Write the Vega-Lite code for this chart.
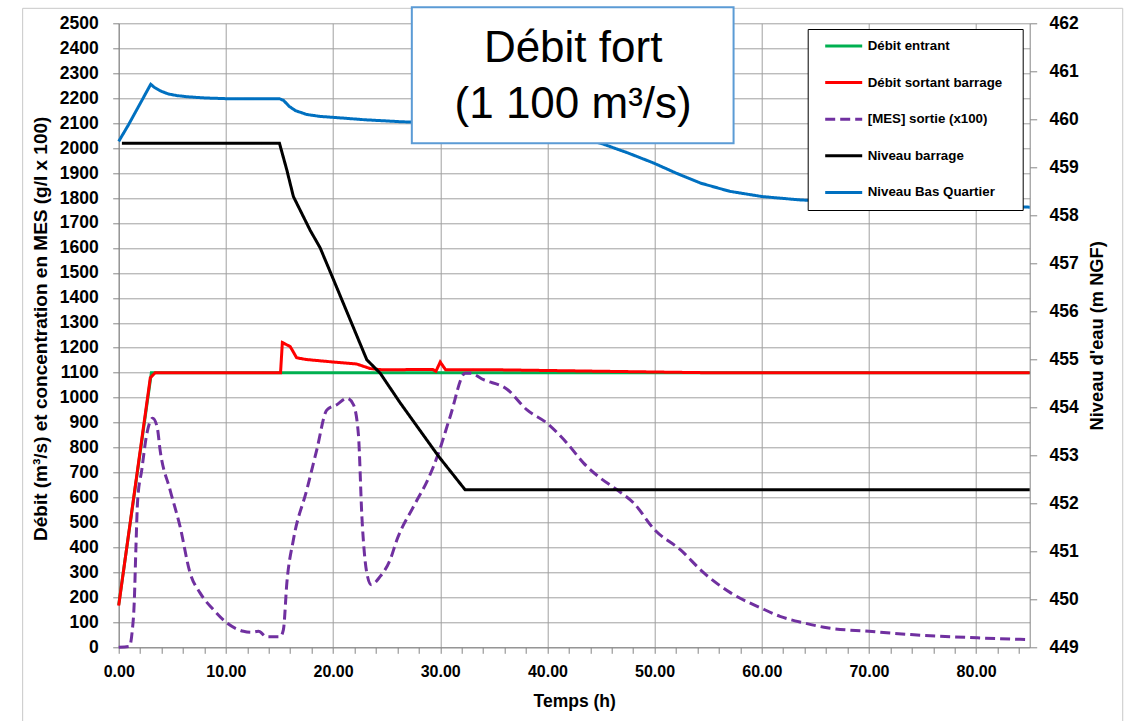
{
  "$schema": "https://vega.github.io/schema/vega-lite/v6.json",
  "width": 911,
  "height": 624,
  "autosize": {"type": "none"},
  "padding": {"left": 118.7, "top": 23.3, "right": 98.3, "bottom": 73.7},
  "background": "white",
  "config": {
    "view": {"stroke": null},
    "font": "Liberation Sans",
    "axis": {
      "labelFont": "Liberation Sans",
      "titleFont": "Liberation Sans",
      "labelFontWeight": "bold",
      "titleFontWeight": "bold",
      "labelColor": "black",
      "titleColor": "black",
      "domainColor": "#868686",
      "tickColor": "#868686",
      "gridColor": "#a0a0a0",
      "gridWidth": 1,
      "labelFlush": false,
      "labelOverlap": false
    },
    "legend": {
      "orient": "none", "legendX": 689, "legendY": 5.7,
      "fillColor": "white", "strokeColor": "#000000", "padding": 7,
      "symbolType": "stroke", "symbolSize": 1369, "symbolStrokeWidth": 3,
      "symbolOffset": 9, "labelOffset": 4, "labelFontSize": 13.3,
      "labelFont": "Liberation Sans", "labelFontWeight": "bold", "labelColor": "black",
      "clipHeight": 20, "rowPadding": 16.6,
      "titleOrient": "right", "titlePadding": 14, "titleFontSize": 8
    }
  },
  "datasets": {
    "flow": [
      {"t": 0, "v": 170, "s": "Débit entrant"},
      {"t": 3.05, "v": 1100, "s": "Débit entrant"},
      {"t": 85, "v": 1100, "s": "Débit entrant"},
      {"t": 0, "v": 167, "s": "Débit sortant barrage"},
      {"t": 2.95, "v": 1080, "s": "Débit sortant barrage"},
      {"t": 3.4, "v": 1100, "s": "Débit sortant barrage"},
      {"t": 15.1, "v": 1100, "s": "Débit sortant barrage"},
      {"t": 15.27, "v": 1221, "s": "Débit sortant barrage"},
      {"t": 16.0, "v": 1205, "s": "Débit sortant barrage"},
      {"t": 16.6, "v": 1160, "s": "Débit sortant barrage"},
      {"t": 17.5, "v": 1153, "s": "Débit sortant barrage"},
      {"t": 20.0, "v": 1143, "s": "Débit sortant barrage"},
      {"t": 22.2, "v": 1135, "s": "Débit sortant barrage"},
      {"t": 23.45, "v": 1117, "s": "Débit sortant barrage"},
      {"t": 24.5, "v": 1112, "s": "Débit sortant barrage"},
      {"t": 29.3, "v": 1113, "s": "Débit sortant barrage"},
      {"t": 29.6, "v": 1106, "s": "Débit sortant barrage"},
      {"t": 30.0, "v": 1143, "s": "Débit sortant barrage"},
      {"t": 30.5, "v": 1112, "s": "Débit sortant barrage"},
      {"t": 35, "v": 1112, "s": "Débit sortant barrage"},
      {"t": 45, "v": 1106, "s": "Débit sortant barrage"},
      {"t": 55, "v": 1100, "s": "Débit sortant barrage"},
      {"t": 85, "v": 1100, "s": "Débit sortant barrage"}
    ],
    "mes": [
      {"t": 0, "v": 0, "s": "[MES] sortie (x100)"},
      {"t": 1.0, "v": 4, "s": "[MES] sortie (x100)"},
      {"t": 1.25, "v": 60, "s": "[MES] sortie (x100)"},
      {"t": 1.46, "v": 190, "s": "[MES] sortie (x100)"},
      {"t": 1.6, "v": 390, "s": "[MES] sortie (x100)"},
      {"t": 1.77, "v": 590, "s": "[MES] sortie (x100)"},
      {"t": 2.15, "v": 710, "s": "[MES] sortie (x100)"},
      {"t": 2.6, "v": 850, "s": "[MES] sortie (x100)"},
      {"t": 3.17, "v": 918, "s": "[MES] sortie (x100)"},
      {"t": 3.6, "v": 880, "s": "[MES] sortie (x100)"},
      {"t": 3.86, "v": 791, "s": "[MES] sortie (x100)"},
      {"t": 4.79, "v": 631, "s": "[MES] sortie (x100)"},
      {"t": 5.72, "v": 485, "s": "[MES] sortie (x100)"},
      {"t": 6.66, "v": 298, "s": "[MES] sortie (x100)"},
      {"t": 7.59, "v": 218, "s": "[MES] sortie (x100)"},
      {"t": 8.83, "v": 151, "s": "[MES] sortie (x100)"},
      {"t": 10.08, "v": 98, "s": "[MES] sortie (x100)"},
      {"t": 11.64, "v": 64, "s": "[MES] sortie (x100)"},
      {"t": 12.4, "v": 60, "s": "[MES] sortie (x100)"},
      {"t": 13.04, "v": 64, "s": "[MES] sortie (x100)"},
      {"t": 13.82, "v": 42, "s": "[MES] sortie (x100)"},
      {"t": 15.06, "v": 42, "s": "[MES] sortie (x100)"},
      {"t": 15.37, "v": 71, "s": "[MES] sortie (x100)"},
      {"t": 15.69, "v": 258, "s": "[MES] sortie (x100)"},
      {"t": 16.3, "v": 431, "s": "[MES] sortie (x100)"},
      {"t": 17.55, "v": 631, "s": "[MES] sortie (x100)"},
      {"t": 18.48, "v": 791, "s": "[MES] sortie (x100)"},
      {"t": 19.42, "v": 951, "s": "[MES] sortie (x100)"},
      {"t": 20.35, "v": 972, "s": "[MES] sortie (x100)"},
      {"t": 21.29, "v": 998, "s": "[MES] sortie (x100)"},
      {"t": 21.9, "v": 972, "s": "[MES] sortie (x100)"},
      {"t": 22.37, "v": 850, "s": "[MES] sortie (x100)"},
      {"t": 22.69, "v": 524, "s": "[MES] sortie (x100)"},
      {"t": 23.15, "v": 298, "s": "[MES] sortie (x100)"},
      {"t": 23.56, "v": 251, "s": "[MES] sortie (x100)"},
      {"t": 24.4, "v": 284, "s": "[MES] sortie (x100)"},
      {"t": 25.33, "v": 351, "s": "[MES] sortie (x100)"},
      {"t": 25.96, "v": 431, "s": "[MES] sortie (x100)"},
      {"t": 27.51, "v": 564, "s": "[MES] sortie (x100)"},
      {"t": 28.91, "v": 678, "s": "[MES] sortie (x100)"},
      {"t": 29.84, "v": 778, "s": "[MES] sortie (x100)"},
      {"t": 30.93, "v": 925, "s": "[MES] sortie (x100)"},
      {"t": 32.33, "v": 1098, "s": "[MES] sortie (x100)"},
      {"t": 32.8, "v": 1098, "s": "[MES] sortie (x100)"},
      {"t": 34.04, "v": 1072, "s": "[MES] sortie (x100)"},
      {"t": 36.23, "v": 1034, "s": "[MES] sortie (x100)"},
      {"t": 38.1, "v": 951, "s": "[MES] sortie (x100)"},
      {"t": 39.96, "v": 898, "s": "[MES] sortie (x100)"},
      {"t": 41.83, "v": 818, "s": "[MES] sortie (x100)"},
      {"t": 43.38, "v": 738, "s": "[MES] sortie (x100)"},
      {"t": 44.94, "v": 678, "s": "[MES] sortie (x100)"},
      {"t": 46.5, "v": 631, "s": "[MES] sortie (x100)"},
      {"t": 48.05, "v": 578, "s": "[MES] sortie (x100)"},
      {"t": 50.0, "v": 471, "s": "[MES] sortie (x100)"},
      {"t": 52.4, "v": 391, "s": "[MES] sortie (x100)"},
      {"t": 54.6, "v": 298, "s": "[MES] sortie (x100)"},
      {"t": 57.1, "v": 218, "s": "[MES] sortie (x100)"},
      {"t": 59.9, "v": 158, "s": "[MES] sortie (x100)"},
      {"t": 61.7, "v": 124, "s": "[MES] sortie (x100)"},
      {"t": 63.9, "v": 98, "s": "[MES] sortie (x100)"},
      {"t": 66.1, "v": 78, "s": "[MES] sortie (x100)"},
      {"t": 70.0, "v": 64, "s": "[MES] sortie (x100)"},
      {"t": 73.9, "v": 51, "s": "[MES] sortie (x100)"},
      {"t": 80.1, "v": 38, "s": "[MES] sortie (x100)"},
      {"t": 84.8, "v": 31, "s": "[MES] sortie (x100)"}
    ],
    "dam": [
      {"t": 0.3, "L": 459.5, "s": "Niveau barrage"},
      {"t": 15.0, "L": 459.5, "s": "Niveau barrage"},
      {"t": 15.68, "L": 458.95, "s": "Niveau barrage"},
      {"t": 16.3, "L": 458.39, "s": "Niveau barrage"},
      {"t": 17.86, "L": 457.69, "s": "Niveau barrage"},
      {"t": 18.8, "L": 457.32, "s": "Niveau barrage"},
      {"t": 20.04, "L": 456.66, "s": "Niveau barrage"},
      {"t": 23.15, "L": 454.99, "s": "Niveau barrage"},
      {"t": 24.4, "L": 454.71, "s": "Niveau barrage"},
      {"t": 26.27, "L": 454.09, "s": "Niveau barrage"},
      {"t": 29.84, "L": 452.98, "s": "Niveau barrage"},
      {"t": 32.33, "L": 452.28, "s": "Niveau barrage"},
      {"t": 85, "L": 452.28, "s": "Niveau barrage"}
    ],
    "bq": [
      {"t": 0, "L": 459.54, "s": "Niveau Bas Quartier"},
      {"t": 0.9, "L": 459.88, "s": "Niveau Bas Quartier"},
      {"t": 2.99, "L": 460.73, "s": "Niveau Bas Quartier"},
      {"t": 3.3, "L": 460.67, "s": "Niveau Bas Quartier"},
      {"t": 3.9, "L": 460.59, "s": "Niveau Bas Quartier"},
      {"t": 4.6, "L": 460.53, "s": "Niveau Bas Quartier"},
      {"t": 5.4, "L": 460.495, "s": "Niveau Bas Quartier"},
      {"t": 6.35, "L": 460.47, "s": "Niveau Bas Quartier"},
      {"t": 8.0, "L": 460.445, "s": "Niveau Bas Quartier"},
      {"t": 10.0, "L": 460.43, "s": "Niveau Bas Quartier"},
      {"t": 15.0, "L": 460.43, "s": "Niveau Bas Quartier"},
      {"t": 15.4, "L": 460.39, "s": "Niveau Bas Quartier"},
      {"t": 15.9, "L": 460.27, "s": "Niveau Bas Quartier"},
      {"t": 16.5, "L": 460.18, "s": "Niveau Bas Quartier"},
      {"t": 17.55, "L": 460.1, "s": "Niveau Bas Quartier"},
      {"t": 18.8, "L": 460.06, "s": "Niveau Bas Quartier"},
      {"t": 20.04, "L": 460.04, "s": "Niveau Bas Quartier"},
      {"t": 23.0, "L": 459.99, "s": "Niveau Bas Quartier"},
      {"t": 26.27, "L": 459.95, "s": "Niveau Bas Quartier"},
      {"t": 30.0, "L": 459.92, "s": "Niveau Bas Quartier"},
      {"t": 35.0, "L": 459.85, "s": "Niveau Bas Quartier"},
      {"t": 40.0, "L": 459.72, "s": "Niveau Bas Quartier"},
      {"t": 43.0, "L": 459.6, "s": "Niveau Bas Quartier"},
      {"t": 45.0, "L": 459.5, "s": "Niveau Bas Quartier"},
      {"t": 47.5, "L": 459.3, "s": "Niveau Bas Quartier"},
      {"t": 49.9, "L": 459.09, "s": "Niveau Bas Quartier"},
      {"t": 52.0, "L": 458.88, "s": "Niveau Bas Quartier"},
      {"t": 54.3, "L": 458.67, "s": "Niveau Bas Quartier"},
      {"t": 57.0, "L": 458.5, "s": "Niveau Bas Quartier"},
      {"t": 60.04, "L": 458.39, "s": "Niveau Bas Quartier"},
      {"t": 63.6, "L": 458.32, "s": "Niveau Bas Quartier"},
      {"t": 70.0, "L": 458.25, "s": "Niveau Bas Quartier"},
      {"t": 78.0, "L": 458.2, "s": "Niveau Bas Quartier"},
      {"t": 85.0, "L": 458.17, "s": "Niveau Bas Quartier"}
    ],
    "one": [{}]
  },
  "layer": [
    {
      "data": {"name": "one"},
      "mark": {"type": "rect", "fill": null, "stroke": "#c8c8c8", "strokeWidth": 1, "clip": false},
      "encoding": {
        "x": {"datum": -8.96, "type": "quantitative"},
        "x2": {"datum": 93.68},
        "y": {"datum": 2560, "type": "quantitative", "scale": {"domain": [0, 2500], "nice": false, "zero": false}, "axis": null},
        "y2": {"datum": -330}
      }
    },
    {
      "layer": [
        {
          "data": {"name": "flow"},
          "mark": {"type": "line", "strokeWidth": 3, "clip": false},
          "encoding": {
            "x": {
              "field": "t", "type": "quantitative",
              "scale": {"domain": [0, 85], "nice": false, "zero": false},
              "axis": {
                "values": [0,2,4,6,8,10,12,14,16,18,20,22,24,26,28,30,32,34,36,38,40,42,44,46,48,50,52,54,56,58,60,62,64,66,68,70,72,74,76,78,80,82,84],
                "tickCount": 200,
                "labelExpr": "datum.value % 10 === 0 ? format(datum.value, '.2f') : ''",
                "grid": true,
                "gridOpacity": {"condition": {"test": "datum.value % 10 === 0", "value": 1}, "value": 0},
                "tickSize": 6,
                "labelFontSize": 16,
                "labelPadding": 23,
                "labelBaseline": "alphabetic",
                "labelOverlap": false,
                "title": "Temps (h)",
                "titleFontSize": 17.5,
                "titleY": 59,
                "titleBaseline": "alphabetic"
              }
            },
            "y": {
              "field": "v", "type": "quantitative",
              "scale": {"domain": [0, 2500], "nice": false, "zero": false},
              "axis": {
                "orient": "left",
                "values": [0,100,200,300,400,500,600,700,800,900,1000,1100,1200,1300,1400,1500,1600,1700,1800,1900,2000,2100,2200,2300,2400,2500],
                "tickCount": 200,
                "format": "d",
                "grid": true,
                "tickSize": 6,
                "labelFontSize": 17.5,
                "labelPadding": 14.4,
                "labelOverlap": false,
                "title": "Débit (m³/s) et concentration en MES (g/l x 100)",
                "titleFontSize": 19,
                "titleAngle": 270,
                "titleX": -78.7,
                "titleY": 305,
                "titleBaseline": "middle",
                "titleAlign": "center"
              }
            },
            "color": {
              "field": "s", "type": "nominal", "title": " ",
              "scale": {
                "domain": ["Débit entrant", "Débit sortant barrage", "[MES] sortie (x100)", "Niveau barrage", "Niveau Bas Quartier"],
                "range": ["#00B050", "#FF0000", "#7030A0", "#000000", "#0070C0"]
              }
            },
            "strokeDash": {
              "field": "s", "type": "nominal", "title": " ",
              "scale": {
                "domain": ["Débit entrant", "Débit sortant barrage", "[MES] sortie (x100)", "Niveau barrage", "Niveau Bas Quartier"],
                "range": [[1, 0], [1, 0], [10, 5], [1, 0], [1, 0]]
              }
            }
          }
        },
        {
          "data": {"name": "mes"},
          "mark": {"type": "line", "strokeWidth": 3, "clip": false, "interpolate": "monotone"},
          "encoding": {
            "x": {"field": "t", "type": "quantitative"},
            "y": {"field": "v", "type": "quantitative"},
            "color": {"field": "s", "type": "nominal", "title": " "},
            "strokeDash": {"field": "s", "type": "nominal", "title": " "}
          }
        }
      ]
    },
    {
      "layer": [
        {
          "data": {"name": "dam"},
          "mark": {"type": "line", "strokeWidth": 3, "clip": false},
          "encoding": {
            "x": {"field": "t", "type": "quantitative"},
            "y": {
              "field": "L", "type": "quantitative",
              "scale": {"domain": [449, 462], "nice": false, "zero": false},
              "axis": {
                "orient": "right",
                "values": [449,450,451,452,453,454,455,456,457,458,459,460,461,462],
                "tickCount": 200,
                "format": "d",
                "grid": false,
                "tickSize": 7,
                "labelFontSize": 17.5,
                "labelPadding": 12.4,
                "labelOverlap": false,
                "title": "Niveau d'eau (m NGF)",
                "titleFontSize": 18.3,
                "titleAngle": 270,
                "titleX": 67.4,
                "titleY": 312,
                "titleBaseline": "middle",
                "titleAlign": "center"
              }
            },
            "color": {"field": "s", "type": "nominal", "title": " "},
            "strokeDash": {"field": "s", "type": "nominal", "title": " "}
          }
        },
        {
          "data": {"name": "bq"},
          "mark": {"type": "line", "strokeWidth": 3, "clip": false},
          "encoding": {
            "x": {"field": "t", "type": "quantitative"},
            "y": {"field": "L", "type": "quantitative"},
            "color": {"field": "s", "type": "nominal", "title": " "},
            "strokeDash": {"field": "s", "type": "nominal", "title": " "}
          }
        }
      ]
    },
    {
      "data": {"name": "one"},
      "layer": [
        {
          "mark": {"type": "rect", "fill": "white", "stroke": "#5B9BD5", "strokeWidth": 2, "clip": false},
          "encoding": {
            "x": {"datum": 27.35, "type": "quantitative"},
            "x2": {"datum": 57.37},
            "y": {"datum": 2564, "type": "quantitative", "scale": {"domain": [0, 2500], "nice": false, "zero": false}, "axis": null},
            "y2": {"datum": 2019.5}
          }
        },
        {
          "mark": {"type": "text", "text": ["Débit fort", "(1 100 m³/s)"], "font": "Liberation Sans", "fontSize": 44, "lineHeight": 56.6, "align": "center", "baseline": "alphabetic", "color": "black"},
          "encoding": {
            "x": {"datum": 42.4, "type": "quantitative"},
            "y": {"datum": 2346, "type": "quantitative", "axis": null}
          }
        }
      ]
    }
  ],
  "resolve": {"scale": {"y": "independent"}}
}
